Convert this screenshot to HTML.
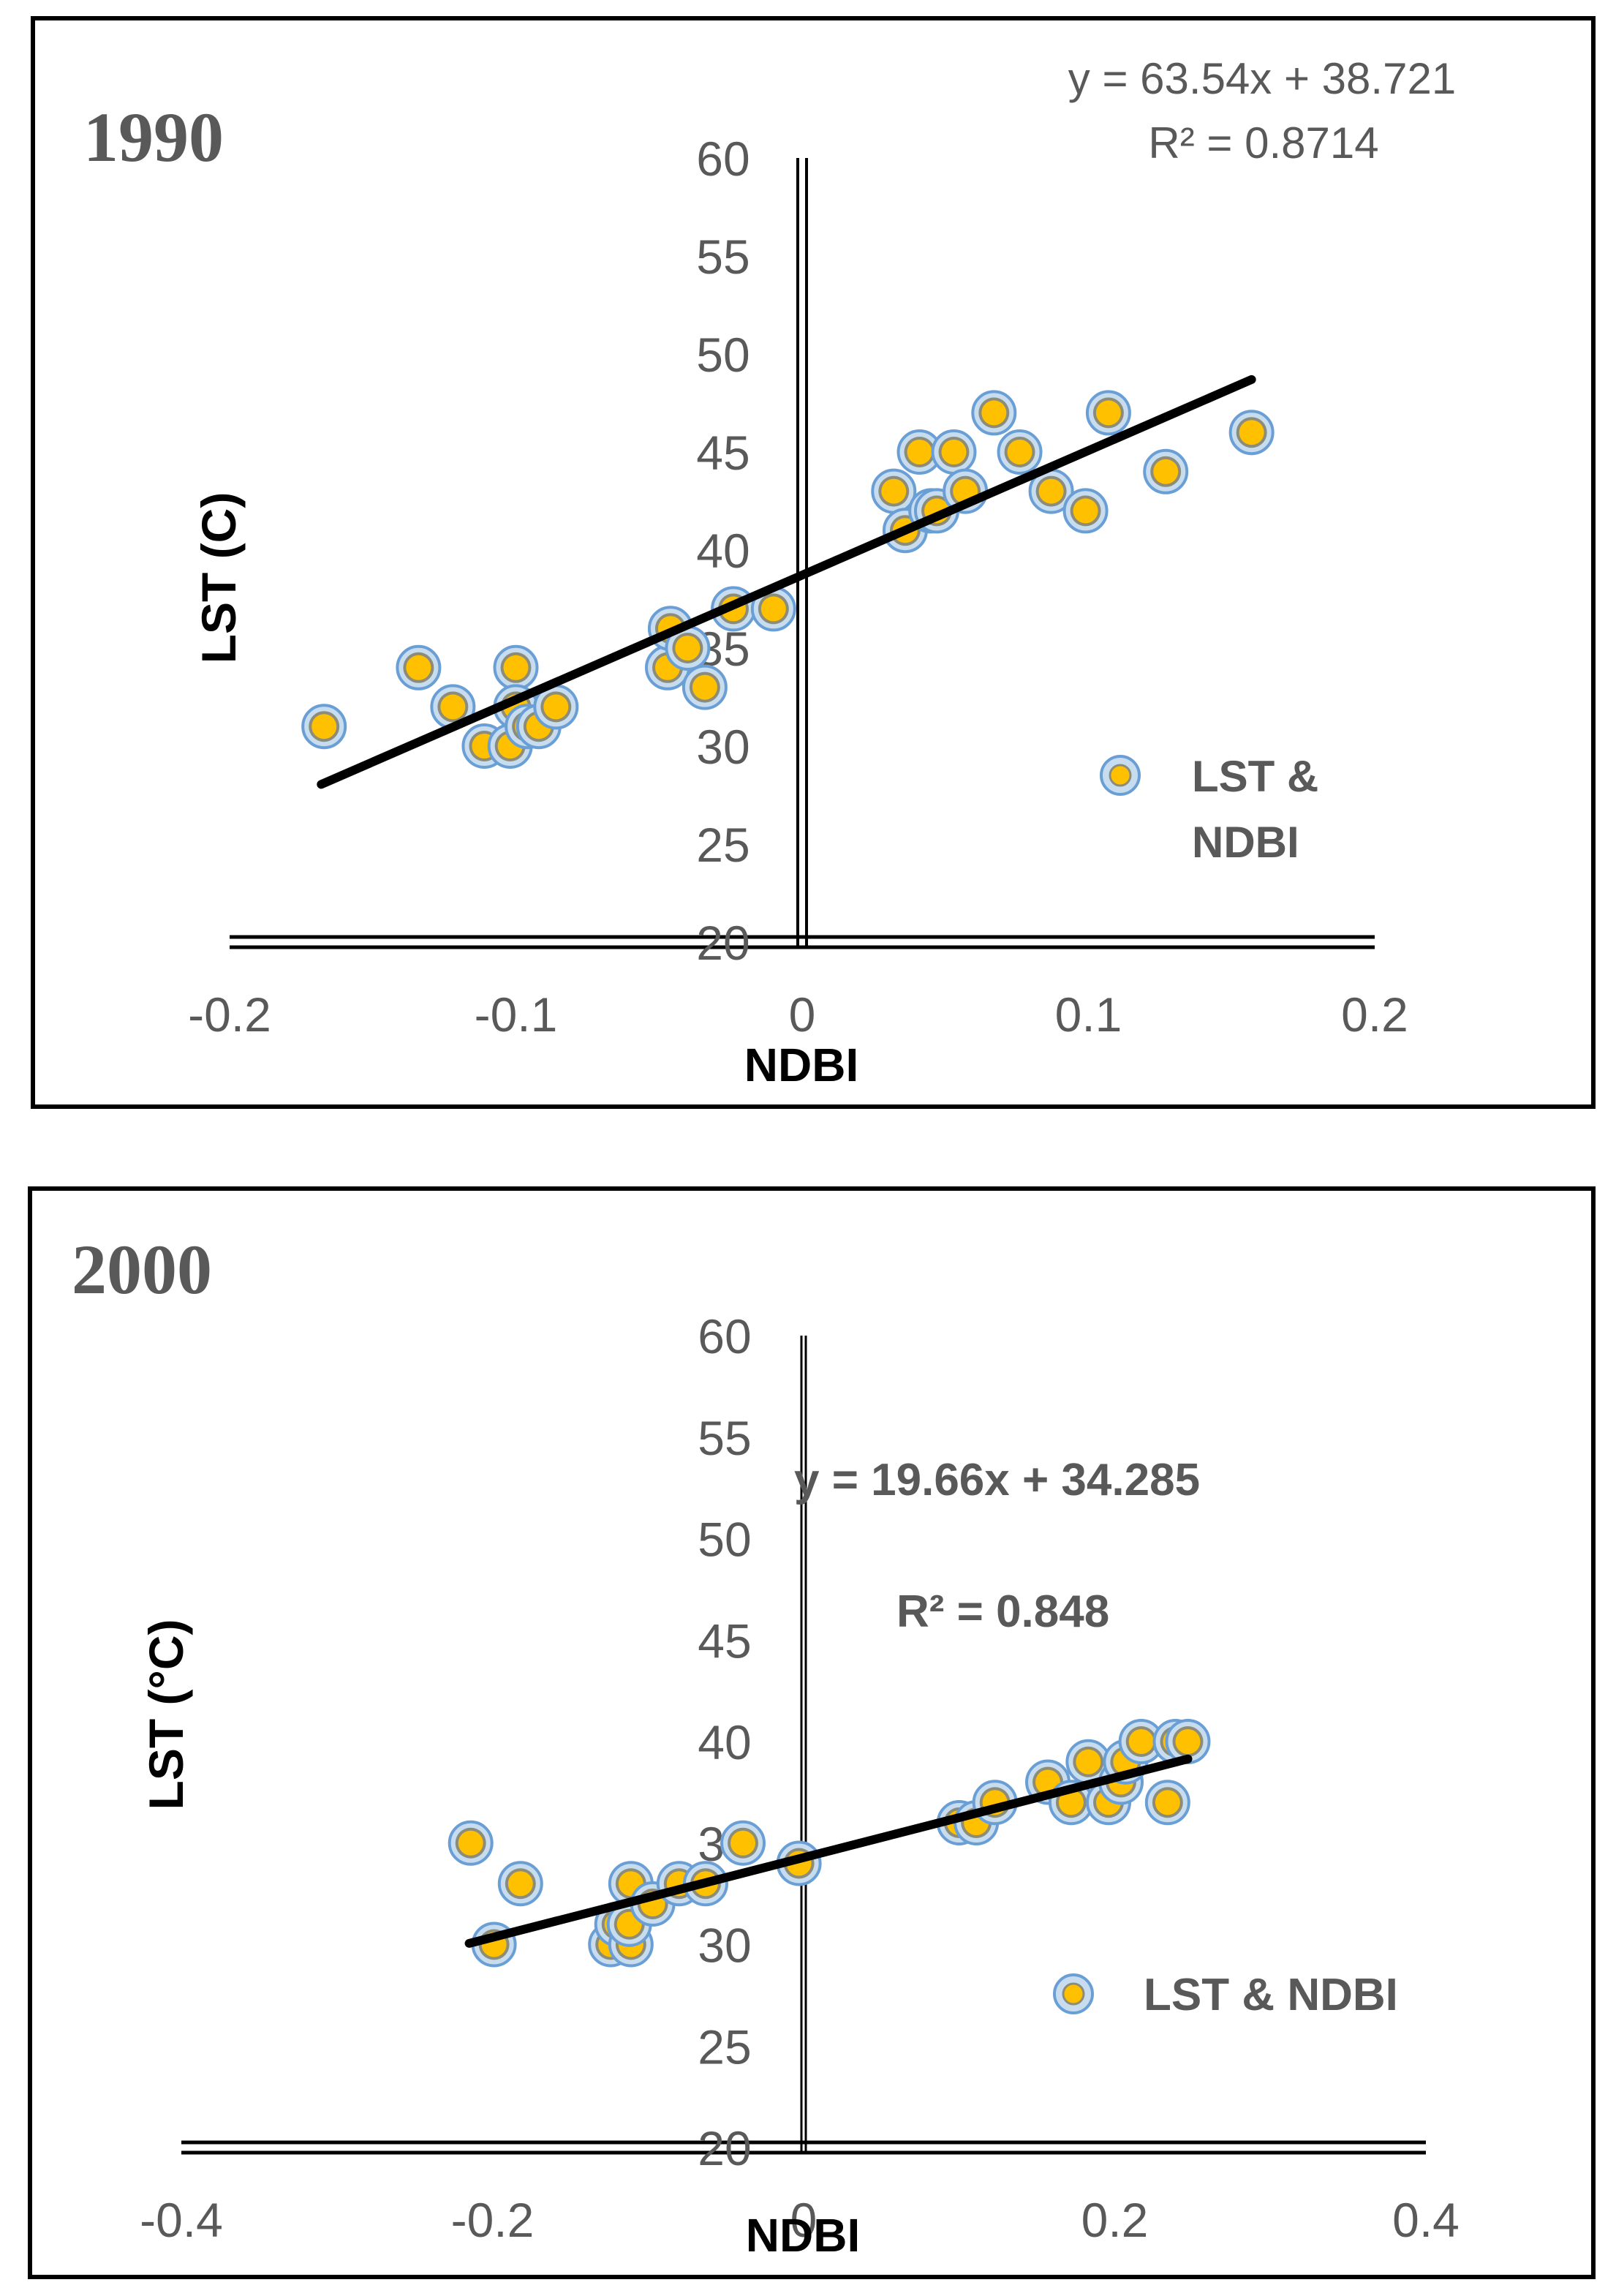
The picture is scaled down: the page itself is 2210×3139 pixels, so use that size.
<!DOCTYPE html>
<html><head><meta charset="utf-8">
<style>
html,body{margin:0;padding:0;background:#fff;}
svg{display:block;}
</style></head>
<body>
<svg id="chart" xmlns="http://www.w3.org/2000/svg" width="2210" height="3139" viewBox="0 0 2210 3139">
<rect x="0" y="0" width="2210" height="3139" fill="#fff"/>
<rect x="45" y="25" width="2134" height="1488" fill="none" stroke="#000" stroke-width="6"/>
<rect x="41" y="1625" width="2138" height="1488" fill="none" stroke="#000" stroke-width="6"/>
<g id="p1"></g>
<g id="p2"></g>
</svg>
<script>
const x1990 = [-0.167,-0.134,-0.122,-0.111,-0.102,-0.100,-0.100,-0.096,-0.092,-0.086,-0.047,-0.046,-0.040,-0.034,-0.024,-0.010,0.032,0.036,0.041,0.045,0.047,0.053,0.057,0.067,0.076,0.087,0.099,0.107,0.127,0.157];
const y1990 = [31,34,32,30,30,34,32,31,31,32,34,36,35,33,37,37,43,41,45,42,42,45,43,47,45,43,42,47,44,46];
const x2000 = [-0.214,-0.182,-0.199,-0.124,-0.120,-0.111,-0.111,-0.112,-0.097,-0.080,-0.063,-0.039,-0.003,0.100,0.111,0.123,0.157,0.172,0.183,0.196,0.204,0.207,0.217,0.234,0.239,0.247];
const y2000 = [35,33,30,30,31,33,30,31,32,33,33,35,34,36,36,37,38,37,39,37,38,39,40,37,40,40];
const yTicks = [20,25,30,35,40,45,50,55,60];
const xTicks1990 = [-0.2,-0.1,0,0.1,0.2];
const xTicks2000 = [-0.4,-0.2,0,0.2,0.4];
const trend1990 = [63.54,38.721];
const trend2000 = [19.66,34.285];

const NS='http://www.w3.org/2000/svg';
function mk(parent,tag,attrs,text){const e=document.createElementNS(NS,tag);for(const k in attrs)e.setAttribute(k,attrs[k]);if(text!==undefined)e.textContent=text;parent.appendChild(e);return e;}

function panel(g,cfg){
  const sx=v=>cfg.xl+(v-cfg.xmin)/(cfg.xmax-cfg.xmin)*(cfg.xr-cfg.xl);
  const sy=v=>cfg.yb-(v-20)/40*(cfg.yb-cfg.yt);
  const x0=sx(0);
  const vax=mk(g,'g',{});
  
  
  mk(vax,'line',{x1:x0-cfg.vgap,y1:cfg.yt,x2:x0-cfg.vgap,y2:cfg.yb+6,stroke:'#000','stroke-width':cfg.vw});
  mk(vax,'line',{x1:x0+cfg.vgap,y1:cfg.yt,x2:x0+cfg.vgap,y2:cfg.yb+6,stroke:'#000','stroke-width':cfg.vw});
  const hax=mk(g,'g',{});
  
  
  mk(hax,'line',{x1:cfg.xl,y1:cfg.yb-7,x2:cfg.xr,y2:cfg.yb-7,stroke:'#000','stroke-width':5});
  mk(hax,'line',{x1:cfg.xl,y1:cfg.yb+7,x2:cfg.xr,y2:cfg.yb+7,stroke:'#000','stroke-width':5});
  yTicks.forEach(t=>{const e=mk(g,'text',{x:x0-108,y:sy(t)+24,'text-anchor':'middle','font-family':'Liberation Sans, sans-serif','font-size':66,fill:'#595959'},String(t));
    
    });
  cfg.xt.forEach(t=>{const e=mk(g,'text',{x:sx(t),y:cfg.xtY,'text-anchor':'middle','font-family':'Liberation Sans, sans-serif','font-size':66,fill:'#595959'},String(t));
    
    });
  cfg.xs.forEach((xv,i)=>{const p=mk(g,'g',{});
    
    
    const cx=sx(xv),cy=sy(cfg.ys[i]);
    mk(p,'circle',{cx:cx,cy:cy,r:29,fill:'#c8dcf0',stroke:'#6a9fd6','stroke-width':4});
    mk(p,'circle',{cx:cx,cy:cy,r:21,fill:'#8c8c7a'});
    mk(p,'circle',{cx:cx,cy:cy,r:17,fill:'#ffc000'});
  });
  const a=cfg.trend[0],b=cfg.trend[1];
  const tl=mk(g,'line',{x1:sx(cfg.tx[0]),y1:sy(a*cfg.tx[0]+b),x2:sx(cfg.tx[1]),y2:sy(a*cfg.tx[1]+b),stroke:'#000','stroke-width':12,'stroke-linecap':'round'});
  
  
}

const g1=document.getElementById('p1');
panel(g1,{xl:314,xr:1880,xmin:-0.2,xmax:0.2,yt:216,yb:1288,vgap:6,vw:4,xt:xTicks1990,xtY:1410,xs:x1990,ys:y1990,trend:trend1990,tx:[-0.168,0.157]});
const g2=document.getElementById('p2');
panel(g2,{xl:248,xr:1950,xmin:-0.4,xmax:0.4,yt:1826,yb:2936,vgap:3,vw:3,xt:xTicks2000,xtY:3058,xs:x2000,ys:y2000,trend:trend2000,tx:[-0.215,0.247]});

function txt(g,name,attrs,s){const e=mk(g,'text',attrs,s);return e;}
txt(g1,'panel-year-title',{x:114,y:220,'font-family':'Liberation Serif, serif','font-weight':'bold','font-size':96,fill:'#595959'},'1990');
txt(g1,'trend-equation',{x:1726,y:128,'text-anchor':'middle','font-family':'Liberation Sans, sans-serif','font-size':60,fill:'#595959'},'y = 63.54x + 38.721');
txt(g1,'r-squared',{x:1728,y:216,'text-anchor':'middle','font-family':'Liberation Sans, sans-serif','font-size':60,fill:'#595959'},'R² = 0.8714');
txt(g1,'x-axis-title',{x:1096,y:1478,'text-anchor':'middle','font-family':'Liberation Sans, sans-serif','font-weight':'bold','font-size':64,fill:'#000'},'NDBI');
txt(g1,'y-axis-title',{x:0,y:0,transform:'translate(322,790) rotate(-90)','text-anchor':'middle','font-family':'Liberation Sans, sans-serif','font-weight':'bold','font-size':66,fill:'#000'},'LST (C)');
const l1=mk(g1,'g',{});


mk(l1,'circle',{cx:1532,cy:1060,r:26,fill:'#c8dcf0',stroke:'#6a9fd6','stroke-width':4});
mk(l1,'circle',{cx:1532,cy:1060,r:14,fill:'#ffc000',stroke:'#8c8c7a','stroke-width':3});
mk(l1,'text',{x:1630,y:1082,'font-family':'Liberation Sans, sans-serif','font-weight':'bold','font-size':60,fill:'#595959'},'LST &');
mk(l1,'text',{x:1630,y:1172,'font-family':'Liberation Sans, sans-serif','font-weight':'bold','font-size':60,fill:'#595959'},'NDBI');
txt(g2,'panel-year-title',{x:98,y:1768,'font-family':'Liberation Serif, serif','font-weight':'bold','font-size':96,fill:'#595959'},'2000');
txt(g2,'trend-equation',{x:1086,y:2044,'font-family':'Liberation Sans, sans-serif','font-weight':'bold','font-size':62,fill:'#595959'},'y = 19.66x + 34.285');
txt(g2,'r-squared',{x:1226,y:2224,'font-family':'Liberation Sans, sans-serif','font-weight':'bold','font-size':62,fill:'#595959'},'R² = 0.848');
txt(g2,'x-axis-title',{x:1098,y:3078,'text-anchor':'middle','font-family':'Liberation Sans, sans-serif','font-weight':'bold','font-size':64,fill:'#000'},'NDBI');
txt(g2,'y-axis-title',{x:0,y:0,transform:'translate(250,2344) rotate(-90)','text-anchor':'middle','font-family':'Liberation Sans, sans-serif','font-weight':'bold','font-size':66,fill:'#000'},'LST (°C)');
const l2=mk(g2,'g',{});


mk(l2,'circle',{cx:1468,cy:2726,r:26,fill:'#c8dcf0',stroke:'#6a9fd6','stroke-width':4});
mk(l2,'circle',{cx:1468,cy:2726,r:14,fill:'#ffc000',stroke:'#8c8c7a','stroke-width':3});
mk(l2,'text',{x:1564,y:2748,'font-family':'Liberation Sans, sans-serif','font-weight':'bold','font-size':62,fill:'#595959'},'LST & NDBI');
</script>
</body></html>
